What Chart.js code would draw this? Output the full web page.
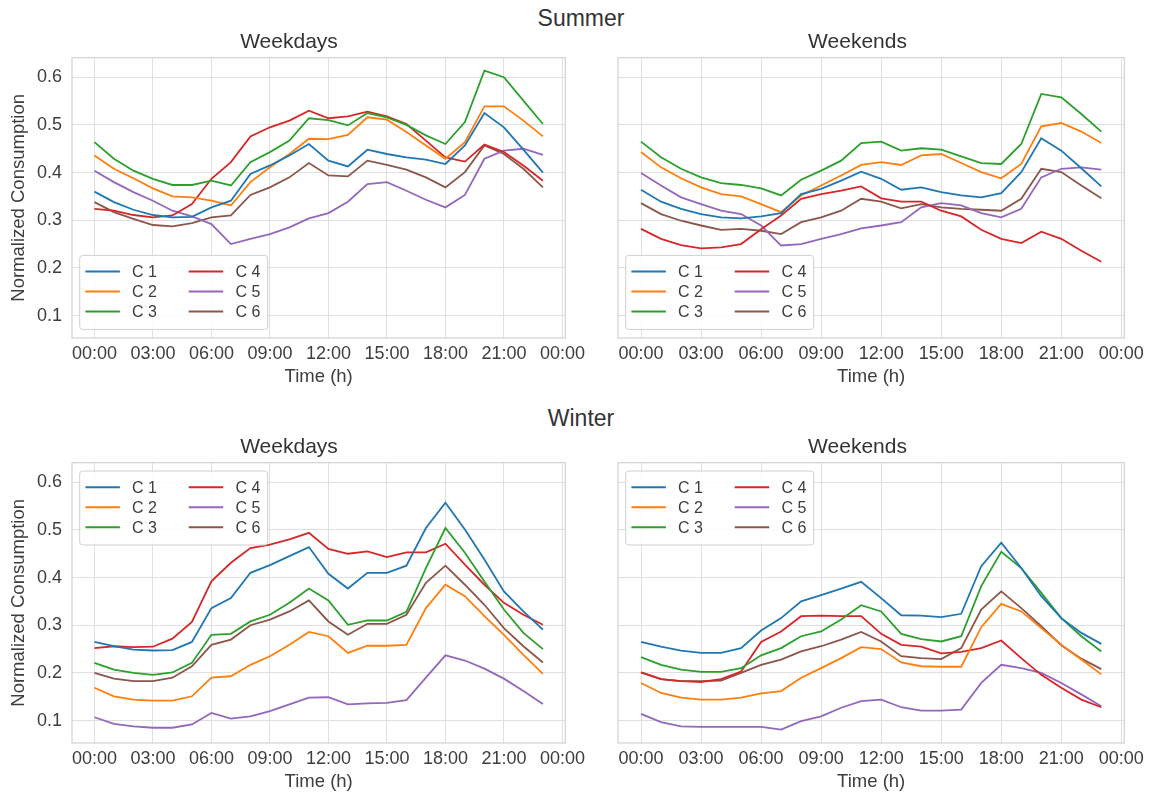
<!DOCTYPE html>
<html>
<head>
<meta charset="utf-8">
<script src="https://cdn.jsdelivr.net/npm/chart.js@4.4.1/dist/chart.umd.min.js"></script>
<style>
  html, body { margin: 0; padding: 0; background: #fff; overflow: hidden; }
  body { width: 1149px; height: 792px; position: relative; font-family: "Liberation Sans", Arial, sans-serif; }
  .panel { position: absolute; }
  .suptitle { position: absolute; left: 481px; width: 200px; text-align: center; font-size: 23px; line-height: 23px; color: #333; }
</style>
</head>
<body>
<div class="suptitle" style="top:7px">Summer</div>
<div class="suptitle" style="top:407px">Winter</div>
<div class="panel" style="left:0;top:28px;width:590px;height:361px"><canvas id="summerWeekdaysChart"></canvas></div>
<div class="panel" style="left:590px;top:28px;width:559px;height:361px"><canvas id="summerWeekendsChart"></canvas></div>
<div class="panel" style="left:0;top:433px;width:590px;height:361px"><canvas id="winterWeekdaysChart"></canvas></div>
<div class="panel" style="left:590px;top:433px;width:559px;height:361px"><canvas id="winterWeekendsChart"></canvas></div>
<script>
// --- datos ---
const hours = [0, 1, 2, 3, 4, 5, 6, 7, 8, 9, 10, 11, 12, 13, 14, 15, 16, 17, 18, 19, 20, 21, 22, 23];
const clusterNames = ['C 1', 'C 2', 'C 3', 'C 4', 'C 5', 'C 6'];
const clusterColors = ['#1f77b4', '#ff7f0e', '#2ca02c', '#d62728', '#9467bd', '#8c564b'];
const xTickValues = [0, 3, 6, 9, 12, 15, 18, 21, 24];
const xTickLabels = ['00:00', '03:00', '06:00', '09:00', '12:00', '15:00', '18:00', '21:00', '00:00'];
const yTickValues = [0.1, 0.2, 0.3, 0.4, 0.5, 0.6];

// filas: C1..C6, columnas: horas 0..23
const summerWeekdays = [
    [0.360, 0.338, 0.322, 0.311, 0.306, 0.307, 0.327, 0.341, 0.397, 0.415, 0.436, 0.460, 0.425, 0.413, 0.448, 0.439, 0.432, 0.427, 0.418, 0.457, 0.525, 0.495, 0.448, 0.400],
    [0.436, 0.408, 0.388, 0.367, 0.350, 0.348, 0.341, 0.331, 0.380, 0.411, 0.439, 0.471, 0.470, 0.479, 0.516, 0.511, 0.485, 0.457, 0.429, 0.464, 0.539, 0.539, 0.509, 0.476],
    [0.464, 0.429, 0.404, 0.387, 0.374, 0.374, 0.383, 0.373, 0.422, 0.443, 0.467, 0.514, 0.510, 0.499, 0.525, 0.516, 0.500, 0.478, 0.460, 0.506, 0.614, 0.600, 0.551, 0.502],
    [0.324, 0.320, 0.311, 0.306, 0.310, 0.334, 0.387, 0.422, 0.476, 0.495, 0.509, 0.530, 0.514, 0.518, 0.528, 0.518, 0.502, 0.467, 0.432, 0.423, 0.459, 0.443, 0.415, 0.383],
    [0.404, 0.380, 0.359, 0.341, 0.320, 0.308, 0.292, 0.250, 0.261, 0.271, 0.285, 0.304, 0.315, 0.339, 0.376, 0.380, 0.362, 0.343, 0.327, 0.353, 0.429, 0.446, 0.450, 0.437],
    [0.338, 0.317, 0.303, 0.290, 0.287, 0.294, 0.306, 0.310, 0.353, 0.369, 0.390, 0.420, 0.394, 0.392, 0.425, 0.416, 0.406, 0.390, 0.369, 0.401, 0.457, 0.439, 0.408, 0.369]
];
const summerWeekends = [
    [0.364, 0.339, 0.324, 0.313, 0.306, 0.304, 0.308, 0.315, 0.355, 0.366, 0.383, 0.402, 0.387, 0.364, 0.369, 0.359, 0.352, 0.348, 0.357, 0.401, 0.472, 0.446, 0.409, 0.371],
    [0.443, 0.411, 0.388, 0.369, 0.355, 0.350, 0.334, 0.317, 0.352, 0.373, 0.394, 0.416, 0.422, 0.416, 0.436, 0.439, 0.420, 0.401, 0.388, 0.418, 0.497, 0.504, 0.486, 0.462],
    [0.465, 0.432, 0.408, 0.390, 0.378, 0.374, 0.367, 0.352, 0.385, 0.404, 0.425, 0.462, 0.465, 0.446, 0.451, 0.448, 0.434, 0.420, 0.418, 0.460, 0.565, 0.558, 0.523, 0.486],
    [0.282, 0.261, 0.248, 0.241, 0.243, 0.250, 0.281, 0.310, 0.345, 0.355, 0.362, 0.371, 0.346, 0.339, 0.339, 0.320, 0.308, 0.280, 0.261, 0.252, 0.276, 0.261, 0.236, 0.213],
    [0.399, 0.373, 0.348, 0.334, 0.320, 0.313, 0.289, 0.247, 0.250, 0.261, 0.271, 0.283, 0.289, 0.296, 0.327, 0.336, 0.331, 0.315, 0.306, 0.324, 0.390, 0.408, 0.411, 0.406],
    [0.336, 0.313, 0.299, 0.289, 0.280, 0.282, 0.278, 0.271, 0.296, 0.306, 0.320, 0.345, 0.339, 0.325, 0.334, 0.327, 0.324, 0.322, 0.320, 0.345, 0.408, 0.401, 0.373, 0.346]
];
const winterWeekdays = [
    [0.265, 0.256, 0.249, 0.247, 0.248, 0.265, 0.336, 0.357, 0.410, 0.426, 0.445, 0.464, 0.408, 0.377, 0.410, 0.410, 0.425, 0.504, 0.557, 0.501, 0.438, 0.371, 0.329, 0.291],
    [0.169, 0.151, 0.144, 0.142, 0.142, 0.151, 0.190, 0.193, 0.217, 0.235, 0.259, 0.286, 0.277, 0.242, 0.257, 0.257, 0.259, 0.336, 0.385, 0.361, 0.319, 0.280, 0.238, 0.198],
    [0.221, 0.207, 0.200, 0.196, 0.201, 0.221, 0.280, 0.282, 0.308, 0.322, 0.347, 0.377, 0.352, 0.301, 0.310, 0.310, 0.328, 0.420, 0.504, 0.452, 0.392, 0.333, 0.284, 0.250],
    [0.252, 0.256, 0.254, 0.255, 0.272, 0.307, 0.392, 0.431, 0.462, 0.469, 0.480, 0.494, 0.460, 0.450, 0.455, 0.443, 0.453, 0.453, 0.471, 0.427, 0.385, 0.347, 0.322, 0.301],
    [0.107, 0.093, 0.088, 0.085, 0.085, 0.092, 0.116, 0.104, 0.109, 0.120, 0.134, 0.148, 0.149, 0.134, 0.136, 0.137, 0.143, 0.190, 0.237, 0.226, 0.209, 0.188, 0.162, 0.135],
    [0.200, 0.188, 0.183, 0.183, 0.190, 0.214, 0.259, 0.270, 0.300, 0.312, 0.329, 0.352, 0.308, 0.280, 0.303, 0.303, 0.322, 0.389, 0.425, 0.385, 0.343, 0.294, 0.256, 0.222]
];
const winterWeekends = [
    [0.265, 0.255, 0.247, 0.242, 0.242, 0.252, 0.289, 0.315, 0.350, 0.363, 0.377, 0.391, 0.357, 0.321, 0.320, 0.317, 0.324, 0.424, 0.473, 0.420, 0.361, 0.315, 0.284, 0.261],
    [0.179, 0.158, 0.148, 0.144, 0.144, 0.148, 0.157, 0.162, 0.190, 0.210, 0.231, 0.254, 0.250, 0.222, 0.214, 0.213, 0.213, 0.296, 0.345, 0.329, 0.294, 0.259, 0.228, 0.197],
    [0.233, 0.217, 0.207, 0.202, 0.202, 0.210, 0.237, 0.252, 0.277, 0.287, 0.312, 0.342, 0.329, 0.282, 0.271, 0.266, 0.277, 0.382, 0.454, 0.420, 0.368, 0.315, 0.277, 0.245],
    [0.201, 0.187, 0.183, 0.181, 0.187, 0.203, 0.265, 0.287, 0.319, 0.320, 0.319, 0.319, 0.282, 0.259, 0.255, 0.241, 0.244, 0.252, 0.268, 0.231, 0.196, 0.169, 0.144, 0.128],
    [0.114, 0.097, 0.088, 0.087, 0.087, 0.087, 0.087, 0.081, 0.099, 0.109, 0.127, 0.141, 0.144, 0.128, 0.121, 0.121, 0.123, 0.179, 0.217, 0.210, 0.200, 0.179, 0.155, 0.130],
    [0.201, 0.187, 0.183, 0.183, 0.184, 0.200, 0.217, 0.228, 0.245, 0.256, 0.270, 0.286, 0.266, 0.235, 0.231, 0.229, 0.252, 0.333, 0.371, 0.336, 0.298, 0.258, 0.230, 0.208]
];

const textColor = '#3d3d3d';
const gridColor = '#e0e0e0';
const fontFamily = '"Liberation Sans", Arial, sans-serif';

// --- marco del área de trazado ---
const framePlugin = {
    id: 'frame',
    beforeDatasetsDraw(chart) {
        const a = chart.chartArea;
        const ctx = chart.ctx;
        ctx.save();
        ctx.strokeStyle = '#d2d2d2';
        ctx.lineWidth = 1.2;
        ctx.strokeRect(a.left, a.top, a.right - a.left, a.bottom - a.top);
        ctx.restore();
    }
};

// --- leyenda dentro del gráfico (2 columnas) ---
const insideLegend = {
    id: 'insideLegend',
    afterDatasetsDraw(chart, args, opts) {
        const a = chart.chartArea;
        const ctx = chart.ctx;
        const w = 188, h = 74;
        const x0 = a.left + 7.7;
        const y0 = opts.where === 'upper' ? a.top + 8.3 : a.bottom - 8.6 - h;
        ctx.save();
        ctx.fillStyle = 'rgba(255,255,255,0.85)';
        ctx.strokeStyle = '#d0d0d0';
        ctx.lineWidth = 1;
        ctx.beginPath();
        ctx.roundRect(x0, y0, w, h, 3);
        ctx.fill();
        ctx.stroke();
        ctx.font = '16px ' + fontFamily;
        ctx.textBaseline = 'middle';
        chart.data.datasets.forEach((ds, i) => {
            const col = Math.floor(i / 3), row = i % 3;
            const hx = x0 + (col === 0 ? 5.7 : 109);
            const ty = y0 + 16.2 + row * 20;
            ctx.strokeStyle = ds.borderColor;
            ctx.lineWidth = 2;
            ctx.beginPath();
            ctx.moveTo(hx, ty);
            ctx.lineTo(hx + 34.5, ty);
            ctx.stroke();
            ctx.fillStyle = textColor;
            ctx.fillText(ds.label, hx + 46.7, ty + 1);
        });
        ctx.restore();
    }
};

function makePanel(id, title, rows, showY, legendWhere) {
    const el = document.getElementById(id);
    if (!el) return;
    new Chart(el, {
        type: 'line',
        data: {
            datasets: rows.map((vals, i) => ({
                label: clusterNames[i],
                data: vals.map((v, j) => ({ x: hours[j], y: v })),
                borderColor: clusterColors[i],
                backgroundColor: clusterColors[i],
                borderWidth: 1.8,
                pointRadius: 0,
                tension: 0,
                fill: false
            }))
        },
        options: {
            responsive: true,
            maintainAspectRatio: false,
            animation: false,
            layout: { padding: { left: 0, right: showY ? 12 : 24, top: 0, bottom: 0 } },
            plugins: {
                legend: { display: false },
                tooltip: { enabled: false },
                title: {
                    display: true,
                    text: title,
                    color: '#333',
                    font: { family: fontFamily, size: 21, weight: 'normal' },
                    padding: { top: 2, bottom: 2.5 }
                },
                insideLegend: { where: legendWhere }
            },
            scales: {
                x: {
                    type: 'linear',
                    min: -1.15,
                    max: 24.15,
                    afterBuildTicks: s => { s.ticks = xTickValues.map(v => ({ value: v })); },
                    afterFit: s => { s.height = 51; },
                    grid: { color: gridColor, drawTicks: false },
                    border: { display: false },
                    ticks: {
                        autoSkip: false,
                        maxRotation: 0,
                        padding: 5,
                        color: textColor,
                        font: { family: fontFamily, size: 18 },
                        callback: (v, i) => xTickLabels[i]
                    },
                    title: {
                        display: true,
                        text: 'Time (h)',
                        color: textColor,
                        font: { family: fontFamily, size: 18.5 },
                        padding: { top: 0, bottom: 0.6 }
                    }
                },
                y: {
                    min: 0.053,
                    max: 0.641,
                    afterBuildTicks: s => { s.ticks = yTickValues.map(v => ({ value: v })); },
                    afterFit: s => { s.width = showY ? 72 : 28; },
                    grid: { color: gridColor, drawTicks: false },
                    border: { display: false },
                    ticks: {
                        display: showY,
                        padding: 10,
                        color: textColor,
                        font: { family: fontFamily, size: 18 },
                        callback: v => v.toFixed(1)
                    },
                    title: {
                        display: showY,
                        text: 'Normalized Consumption',
                        color: textColor,
                        font: { family: fontFamily, size: 18.5 },
                        padding: { top: 8, bottom: 0 }
                    }
                }
            }
        },
        plugins: [framePlugin, insideLegend]
    });
}

makePanel('summerWeekdaysChart', 'Weekdays', summerWeekdays, true, 'lower');
makePanel('summerWeekendsChart', 'Weekends', summerWeekends, false, 'lower');
makePanel('winterWeekdaysChart', 'Weekdays', winterWeekdays, true, 'upper');
makePanel('winterWeekendsChart', 'Weekends', winterWeekends, false, 'upper');
</script>
</body>
</html>
